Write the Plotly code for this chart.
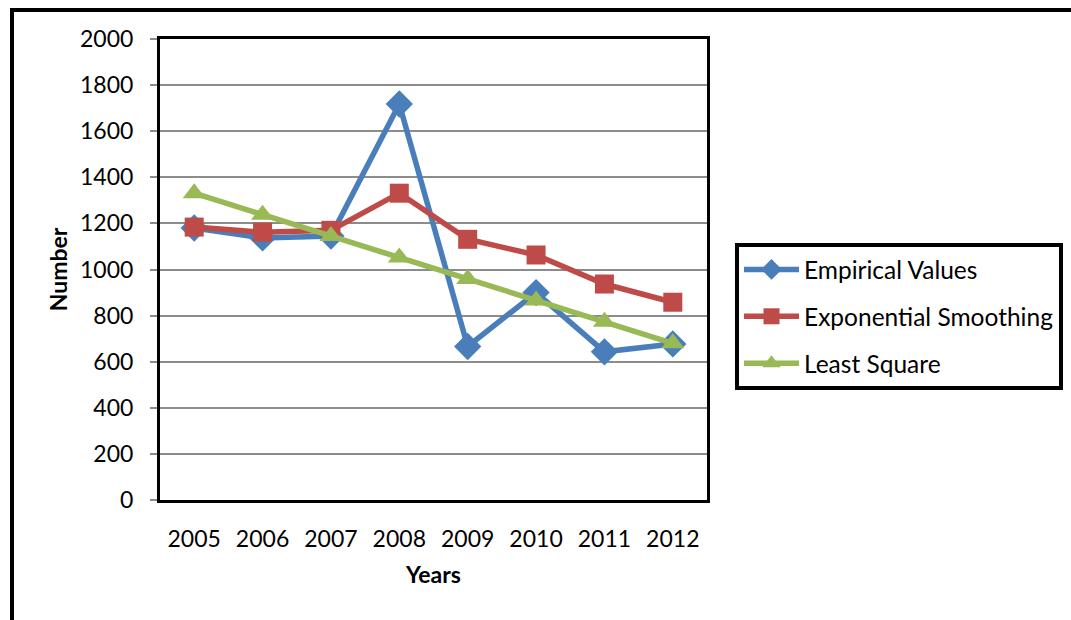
import plotly.graph_objects as go

# Yearly figures for the three series
years = ["2005", "2006", "2007", "2008", "2009", "2010", "2011", "2012"]
empirical = [1180, 1137, 1145, 1718, 666, 900, 643, 677]
exp_smoothing = [1184, 1162, 1170, 1331, 1131, 1063, 937, 858]
least_square = [1331, 1238, 1145, 1052, 959, 866, 773, 680]

W, H = 1071, 620
ML, MR, MT, MB = 160, 364, 39, 120
FONT = "Lato, 'Open Sans', sans-serif"
FS = 23

fig = go.Figure()

series = [
    ("Empirical Values", empirical, "#4A7EBB", "diamond", 21),
    ("Exponential Smoothing", exp_smoothing, "#BE4B48", "square", 19),
    ("Least Square", least_square, "#98B954", "triangle-up", 20),
]
for name, vals, color, sym, size in series:
    fig.add_trace(go.Scatter(
        x=years, y=vals, name=name, legendgroup=name,
        mode="lines+markers",
        line=dict(color=color, width=5.5),
        marker=dict(symbol=sym, size=size, color=color,
                    line=dict(width=0)),
    ))

pw = W - ML - MR
ph = H - MT - MB


def px_x(v):
    return (v - ML) / pw


def px_y(v):
    return (H - MB - v) / ph


# Outer chart frame
fig.add_shape(type="rect", xref="paper", yref="paper",
              x0=px_x(12), x1=px_x(1090), y0=px_y(10), y1=px_y(640),
              line=dict(color="black", width=4), layer="below")

fig.update_layout(
    width=W, height=H,
    margin=dict(l=ML, r=MR, t=MT, b=MB, autoexpand=False),
    paper_bgcolor="white", plot_bgcolor="white",
    font=dict(family=FONT, size=FS, color="black"),
    showlegend=True,
    legend=dict(
        xref="container", yref="container",
        x=735 / W, y=1 - 243 / H, xanchor="left", yanchor="top",
        bordercolor="black", borderwidth=4, bgcolor="white",
        font=dict(family=FONT, size=24.5, color="black"),
        tracegroupgap=12, itemwidth=55,
    ),
    xaxis=dict(
        type="category", range=[-0.5, 7.5],
        showline=True, linecolor="black", linewidth=3, mirror=True,
        showgrid=False, ticks="", ticklabelstandoff=16,
        tickfont=dict(family=FONT, size=FS),
        title=dict(text="<b>Years</b>", font=dict(family=FONT, size=FS),
                   standoff=17),
    ),
    yaxis=dict(
        range=[0, 2000], dtick=200,
        showline=True, linecolor="black", linewidth=3, mirror=True,
        showgrid=True, gridcolor="#8C8C8C", gridwidth=2,
        ticks="outside", ticklen=7, tickcolor="#8C8C8C", tickwidth=2,
        ticklabelstandoff=12,
        tickfont=dict(family=FONT, size=FS),
        zeroline=False,
        title=dict(text="<b>Number</b>", font=dict(family=FONT, size=FS),
                   standoff=6),
    ),
)

fig.write_html("out.html")
